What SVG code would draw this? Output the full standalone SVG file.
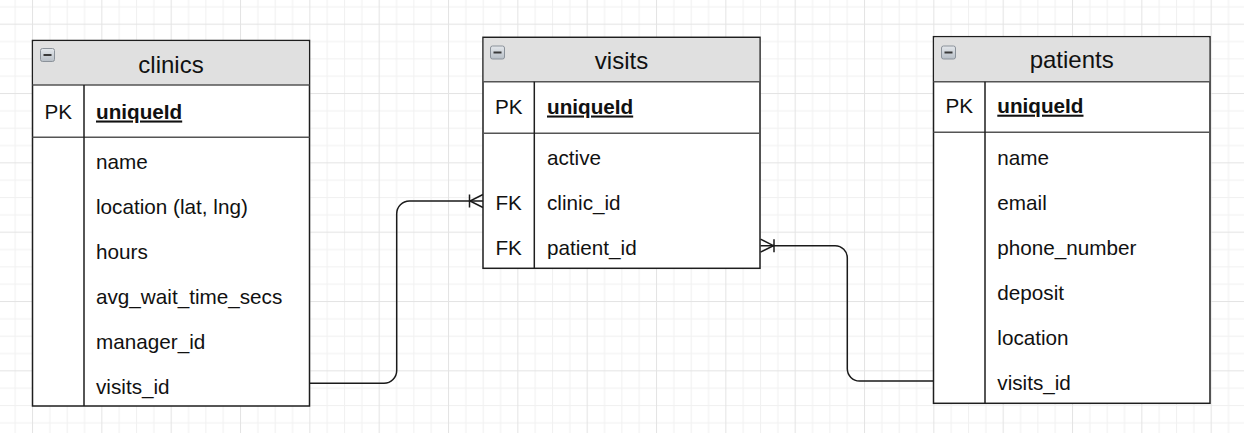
<svg xmlns="http://www.w3.org/2000/svg" width="1244" height="440" viewBox="0 0 1244 440">
  <style>
    .tbl { fill: #ffffff; stroke: #1e1e1e; stroke-width: 1.5; }
    .hdr { fill: #e0e0e0; stroke: none; }
    .sep { stroke: #555; stroke-width: 1.5; fill: none; }
    .col { stroke: #1e1e1e; stroke-width: 1.5; fill: none; }
    .title { font-family: "Liberation Sans", Arial, sans-serif; font-size: 24px; fill: #111; text-anchor: middle; }
    .key { font-family: "Liberation Sans", Arial, sans-serif; font-size: 20.7px; fill: #111; text-anchor: middle; }
    .fld { font-family: "Liberation Sans", Arial, sans-serif; font-size: 20.7px; fill: #111; }
    .pk { font-weight: bold; text-decoration: underline; }
    .edge { fill: none; stroke: #1a1a1a; stroke-width: 1.5; }
    .icon { fill: url(#ig); stroke: #8b929a; stroke-width: 1; }
    .dash { fill: #3a3a3a; }
  </style>
  <defs>
    <pattern id="grid" patternUnits="userSpaceOnUse" x="32" y="23.667" width="69.333" height="69.333">
      <rect x="0" y="0" width="69.333" height="69.333" fill="#ffffff"/>
      <rect x="17.333" y="0" width="1" height="69.333" fill="#f1f1f1"/>
      <rect x="34.667" y="0" width="1" height="69.333" fill="#f1f1f1"/>
      <rect x="52" y="0" width="1" height="69.333" fill="#f1f1f1"/>
      <rect x="0" y="17.333" width="69.333" height="1" fill="#f1f1f1"/>
      <rect x="0" y="34.667" width="69.333" height="1" fill="#f1f1f1"/>
      <rect x="0" y="52" width="69.333" height="1" fill="#f1f1f1"/>
      <rect x="0" y="0" width="1" height="69.333" fill="#e4e4e4"/>
      <rect x="0" y="0" width="69.333" height="1" fill="#e4e4e4"/>
    </pattern>
    <linearGradient id="ig" x1="0" y1="0" x2="0" y2="1">
      <stop offset="0" stop-color="#e4e8ec"/>
      <stop offset="1" stop-color="#b7bec6"/>
    </linearGradient>
    <marker id="crow" markerUnits="userSpaceOnUse" viewBox="-16 -9 18 18" refX="0" refY="0" markerWidth="18" markerHeight="18" orient="auto" overflow="visible">
      <path d="M-13.5 -6.5 V6.5 M0 -6.5 L-13 0 L0 6.5" fill="none" stroke="#1a1a1a" stroke-width="1.5"/>
    </marker>
  </defs>

  <rect x="0" y="0" width="1244" height="440" fill="#ffffff"/>
  <rect x="0" y="0" width="1244" height="433" fill="url(#grid)"/>

  <g id="connectors">
    <path class="edge" d="M309.5 383.3 H384 A12.7 12.7 0 0 0 396.7 370.6 V213.7 A12.7 12.7 0 0 1 409.4 201 H483" marker-end="url(#crow)"/>
    <path class="edge" d="M933.5 381 H859.5 A12.2 12.2 0 0 1 847.3 368.8 V257.9 A12.2 12.2 0 0 0 835.1 245.7 H760.5" marker-end="url(#crow)"/>
  </g>

  <g id="clinics">
    <rect class="tbl" x="32.5" y="40.5" width="277" height="365.5"/>
    <rect class="hdr" x="33.25" y="41.25" width="275.5" height="43.75"/>
    <line class="sep" x1="32.5" y1="85" x2="309.5" y2="85"/>
    <line class="sep" x1="32.5" y1="137.3" x2="309.5" y2="137.3"/>
    <line class="col" x1="84" y1="85" x2="84" y2="406"/>
    <rect class="icon" x="40.5" y="48.5" width="14" height="13" rx="2"/>
    <rect class="dash" x="43.5" y="54" width="8" height="2"/>
    <text class="title" x="171" y="73">clinics</text>
    <text class="key" x="58.2" y="118.5">PK</text>
    <text class="fld pk" x="96" y="118.5">uniqueId</text>
    <text class="fld" x="96" y="169">name</text>
    <text class="fld" x="96" y="214">location (lat, lng)</text>
    <text class="fld" x="96" y="259">hours</text>
    <text class="fld" x="96" y="304">avg_wait_time_secs</text>
    <text class="fld" x="96" y="349">manager_id</text>
    <text class="fld" x="96" y="394">visits_id</text>
  </g>

  <g id="visits">
    <rect class="tbl" x="483" y="37.3" width="277" height="231"/>
    <rect class="hdr" x="483.75" y="38.05" width="275.5" height="43.65"/>
    <line class="sep" x1="483" y1="81.7" x2="760" y2="81.7"/>
    <line class="sep" x1="483" y1="133.3" x2="760" y2="133.3"/>
    <line class="col" x1="534.3" y1="81.7" x2="534.3" y2="268.3"/>
    <rect class="icon" x="490.5" y="46" width="14" height="13" rx="2"/>
    <rect class="dash" x="493.5" y="51.5" width="8" height="2"/>
    <text class="title" x="621.5" y="68.5">visits</text>
    <text class="key" x="508.7" y="113.5">PK</text>
    <text class="fld pk" x="547" y="113.5">uniqueId</text>
    <text class="fld" x="547" y="165">active</text>
    <text class="key" x="508.7" y="210">FK</text>
    <text class="fld" x="547" y="210">clinic_id</text>
    <text class="key" x="508.7" y="255">FK</text>
    <text class="fld" x="547" y="255">patient_id</text>
  </g>

  <g id="patients">
    <rect class="tbl" x="933.5" y="36.7" width="276.5" height="366.6"/>
    <rect class="hdr" x="934.25" y="37.45" width="275" height="44.25"/>
    <line class="sep" x1="933.5" y1="81.7" x2="1210" y2="81.7"/>
    <line class="sep" x1="933.5" y1="132.3" x2="1210" y2="132.3"/>
    <line class="col" x1="985" y1="81.7" x2="985" y2="403.3"/>
    <rect class="icon" x="941.5" y="46" width="14" height="13" rx="2"/>
    <rect class="dash" x="944.5" y="51.5" width="8" height="2"/>
    <text class="title" x="1071.7" y="68">patients</text>
    <text class="key" x="959.2" y="112.7">PK</text>
    <text class="fld pk" x="997.3" y="112.7">uniqueId</text>
    <text class="fld" x="997.3" y="165">name</text>
    <text class="fld" x="997.3" y="210">email</text>
    <text class="fld" x="997.3" y="255">phone_number</text>
    <text class="fld" x="997.3" y="300">deposit</text>
    <text class="fld" x="997.3" y="345">location</text>
    <text class="fld" x="997.3" y="389.5">visits_id</text>
  </g>
</svg>
